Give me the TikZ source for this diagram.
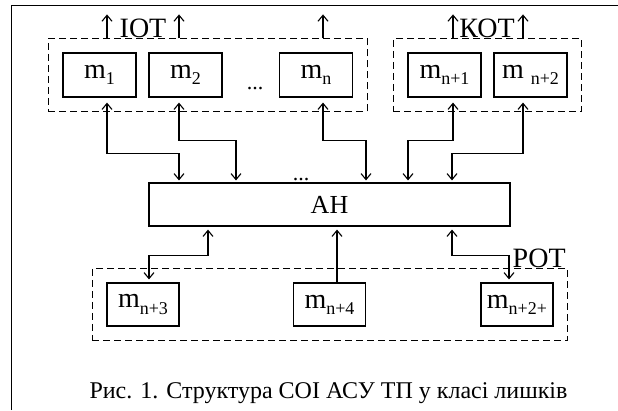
\documentclass[tikz,border=0pt]{standalone}
\usepackage{fontspec}
\setmainfont{Liberation Serif}
\usetikzlibrary{arrows.meta,fit,positioning}

\newcommand{\idx}[1]{\raisebox{-0.22em}{\fontsize{18}{18}\selectfont #1}}

\begin{document}
\begin{tikzpicture}[x=1pt,y=-1pt,
>={Straight Barb[length=6pt,width=10pt]},
line width=1.1pt]
\tikzstyle{module}=[rectangle, draw, line width=1.2pt, inner sep=0pt,
 minimum width=73pt, minimum height=44pt, font=\fontsize{28}{28}\selectfont]
\tikzset{
	group/.style={
		draw,
		dash pattern=on 7pt off 4pt,
		line width=1.2pt,
		inner sep=14pt
	},
	grouplabel/.style={
		anchor=base,
		inner sep=0pt,
		font=\fontsize{28}{28}\selectfont
	},
	link/.style={
		<->,
		shorten <=5pt,
		shorten >=2pt
	}
}

\useasboundingbox (0,0) rectangle (618,410);
\draw[line width=1.6pt] (11.5,410) -- (11.5,5.5) -- (618,5.5);

%--------------------------- top modules ------------
\node[module] (M1) at (99.5,75) {m\idx{1}};
\node[module, right of=M1, node distance=86pt] (M2) {m\idx{2}};
\node[module, right of=M2, node distance=130.5pt] (Mn) {m\idx{n}};
\node[anchor=base, inner sep=0pt, font=\fontsize{22}{22}\selectfont] (dotsA) at (255,89) {...};

\node[module, right of=Mn, node distance=128.5pt] (Mn1) {m\idx{n+1}};
\node[module, right of=Mn1, node distance=86pt] (Mn2) {m\ \idx{n+2}};

\node[group, fit=(M1)(Mn)] (IOT) {};
\node[group, fit=(Mn1)(Mn2)] (KOT) {};
\node[grouplabel] (IOTlabel) at (143,37) {ІОТ};
\node[grouplabel] (KOTlabel) at (487,37) {КОТ};

%outputs
\draw[->] ([xshift=7.5pt]M1.north) ++(0,-14) -- ++(0,-24);
\draw[->] ([xshift=-6.5pt]M2.north) ++(0,-14) -- ++(0,-24);
\draw[->] ([xshift=7pt]Mn.north) ++(0,-14) -- ++(0,-24);
\draw[->] ([xshift=8.5pt]Mn1.north) ++(0,-14) -- ++(0,-24);
\draw[->] ([xshift=-7.5pt]Mn2.north) ++(0,-14) -- ++(0,-24);

%--------------------------- AH ------------
\node[draw, line width=1.2pt, minimum width=361pt, minimum height=43pt,
 font=\fontsize{26}{26}\selectfont] (AH) at (329.5,204.5) {АН};
\node[anchor=base, inner sep=0pt, font=\fontsize{22}{22}\selectfont] (dotsB) at (301,180) {...};

\draw[link] ([xshift=7.5pt]M1.south) -- ++(0,56) -| ([xshift=-150.5pt]AH.north);
\draw[link] ([xshift=-6.5pt]M2.south) -- ++(0,43) -| ([xshift=-93.5pt]AH.north);
\draw[link] ([xshift=7pt]Mn.south) -- ++(0,43) -| ([xshift=36.5pt]AH.north);
\draw[link] ([xshift=8.5pt]Mn1.south) -- ++(0,43) -| ([xshift=78.5pt]AH.north);
\draw[link] ([xshift=-7.5pt]Mn2.south) -- ++(0,56) -| ([xshift=122.5pt]AH.north);

%---------------- bottom modules ------------
\node[module, minimum width=72pt, minimum height=43pt] (Mn3) at (143,304.5) {m\idx{n+3}};
\node[module, minimum width=72pt, minimum height=43pt, right of=Mn3, node distance=186.5pt] (Mn4) {m\idx{n+4}};
\node[module, minimum width=72pt, minimum height=43pt, right of=Mn4, node distance=187.5pt] (Mn2p) {m\idx{n+2+}};

\node[group, fit=(Mn3)(Mn2p)] (POT) {};
\node[grouplabel, anchor=base west] (POTlabel) at (512,267) {РОТ};

\draw[link, shorten <=3pt, shorten >=3pt] ([xshift=-121.5pt]AH.south) -- ++(0,29) -| ([xshift=6pt]Mn3.north);
\draw[->, shorten >=3pt] ([xshift=7.5pt]Mn4.north) -- ([xshift=7.5pt]AH.south);
\draw[link, shorten <=3pt, shorten >=3pt] ([xshift=122.5pt]AH.south) -- ++(0,29) -| ([xshift=-8pt]Mn2p.north);

%caption
\node[anchor=base, inner sep=0pt, font=\fontsize{24}{24}\selectfont] (caption) at (328.5,398) {Рис. 1. Структура СОІ АСУ ТП у класі лишків};

\end{tikzpicture}
\end{document}
